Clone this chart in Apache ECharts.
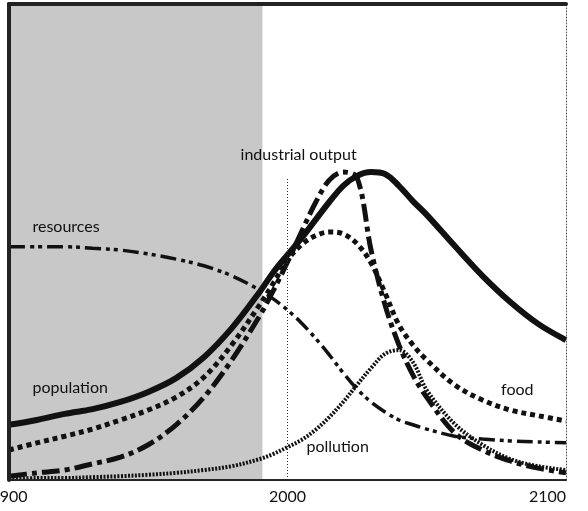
<!DOCTYPE html>
<html>
<head>
<meta charset="utf-8">
<script src="https://cdn.jsdelivr.net/npm/echarts@6/dist/echarts.min.js"></script>
<style>
  html, body { margin: 0; padding: 0; background: #fff; }
  #ec { width: 588px; height: 511px; }
</style>
</head>
<body>
<div id="ec"></div>
<script>
  // years shared by every curve
  const years = [1900, 1910, 1920, 1930, 1940, 1950, 1960, 1970, 1980, 1990, 1995, 2000, 2005, 2010,
    2015, 2020, 2025, 2030, 2035, 2040, 2045, 2050, 2060, 2070, 2080, 2090, 2100]

  const population = [11.6, 12.6, 13.9, 14.9, 16.4, 18.5, 21.4, 25.8, 31.9, 39.5, 43.7, 47.3, 50.8, 54.6,
    58.4, 61.8, 63.9, 64.7, 64.3, 61.8, 58.6, 55.7, 49.2, 42.9, 37.4, 32.8, 29.4]
  const food = [6.3, 7.8, 9.2, 10.7, 12.6, 14.7, 17.4, 21.6, 28.4, 36.8, 41.4, 46.2, 49.4, 51.3,
    52.1, 51.7, 49.6, 45.6, 39.3, 32.6, 28.4, 25.2, 20.0, 16.8, 14.7, 13.5, 12.4]
  const industrial = [0.8, 1.5, 2.1, 3.4, 4.8, 7.4, 11.6, 17.4, 25.2, 34.5, 39.9, 45.8, 52.1, 58.2,
    63.0, 64.7, 63.5, 48.3, 36.8, 28.4, 22.1, 17.4, 9.9, 6.3, 4.0, 2.5, 1.5]
  const resources = [49.0, 49.0, 49.0, 48.7, 48.3, 47.5, 46.4, 45.0, 42.9, 39.9, 38.0, 35.7, 33.0, 29.8,
    26.3, 22.5, 19.1, 16.4, 14.3, 12.6, 11.6, 10.7, 9.2, 8.6, 8.2, 8.0, 7.8]
  const pollution = [0.2, 0.4, 0.4, 0.6, 0.8, 1.1, 1.5, 2.1, 2.9, 4.4, 5.5, 6.9, 8.4, 10.5,
    13.2, 16.4, 20.0, 23.5, 26.5, 27.3, 24.8, 18.9, 11.8, 7.4, 4.4, 2.9, 2.1]

  const xTicks = [1900, 2000, 2100]
  const shadeRange = [1900, 1991]

  // label text, anchored at [year, value]
  const labels = {
    population: ['population', 1922, 19.3],
    food: ['food', 2082.5, 18.9],
    industrial: ['industrial output', 2004, 68.3],
    resources: ['resources', 1920.5, 53.2],
    pollution: ['pollution', 2018, 6.9]
  }

  const font = 'Lato'
  const ink = '#111'

  function pairs(vals){
    return years.map((y, i) => [y, vals[i]])
  }

  function tag(key){
    const l = labels[key]
    return {
      silent: true,
      symbol: 'circle',
      symbolSize: 0,
      label: {
        show: true,
        position: 'inside',
        color: ink,
        fontFamily: font,
        fontSize: 16,
        formatter: l[0]
      },
      data: [{ coord: [l[1], l[2]] }]
    }
  }

  function line(name, vals, style){
    return {
      name: name,
      type: 'line',
      data: pairs(vals),
      smooth: 0.35,
      showSymbol: false,
      silent: true,
      lineStyle: Object.assign({ color: ink, cap: 'butt' }, style),
      markPoint: tag(name)
    }
  }

  const ec = echarts.init(document.getElementById('ec'))

  const series = [
    line('population', population, { width: 6, type: 'solid' }),
    line('food', food, { width: 5, type: [5, 4] }),
    line('industrial', industrial, { width: 5, type: [18, 5, 5, 5] }),
    line('resources', resources, { width: 3.5, type: [16, 5, 4, 4, 4, 5] }),
    line('pollution', pollution, { width: 4, type: [2, 1.5] })
  ]

  // shaded past + dotted marker at 2000
  series[0].markArea = {
    silent: true,
    z: 1,
    itemStyle: { color: '#c8c8c8' },
    data: [[{ xAxis: shadeRange[0] }, { xAxis: shadeRange[1] }]]
  }
  series[0].markLine = {
    silent: true,
    symbol: 'none',
    label: { show: false },
    lineStyle: { color: '#333', width: 1, type: [1, 2] },
    data: [[{ coord: [2000, 0] }, { coord: [2000, 63.5] }]]
  }

  const plain = { show: false }

  ec.setOption({
    animation: false,
    grid: { left: 9, right: 22, top: 4, bottom: 31, containLabel: false, outerBoundsMode: 'none' },
    xAxis: [{
      type: 'value',
      z: 10,
      min: 1900,
      max: 2100,
      interval: 100,
      axisLine: { show: true, onZero: false, lineStyle: { color: '#222', width: 2, type: [1, 1] } },
      axisTick: plain,
      splitLine: plain,
      axisLabel: {
        color: ink,
        fontFamily: font,
        fontSize: 16,
        margin: 9,
        alignMaxLabel: 'right',
        formatter: v => xTicks.includes(v) ? String(v) : ''
      }
    }, {
      type: 'value',
      position: 'top',
      z: 10,
      min: 1900,
      max: 2100,
      axisLine: { show: true, onZero: false, lineStyle: { color: '#222', width: 4 } },
      axisTick: plain,
      axisLabel: plain,
      splitLine: plain
    }],
    yAxis: [{
      type: 'value',
      position: 'left',
      z: 10,
      min: 0,
      max: 100,
      axisLine: { show: true, onZero: false, lineStyle: { color: '#222', width: 4 } },
      axisTick: plain,
      axisLabel: plain,
      splitLine: plain
    }, {
      type: 'value',
      position: 'right',
      z: 10,
      min: 0,
      max: 100,
      axisLine: { show: true, onZero: false, lineStyle: { color: '#555', width: 1, type: [1, 2] } },
      axisTick: plain,
      axisLabel: plain,
      splitLine: plain
    }],
    series: series
  })
</script>
</body>
</html>
